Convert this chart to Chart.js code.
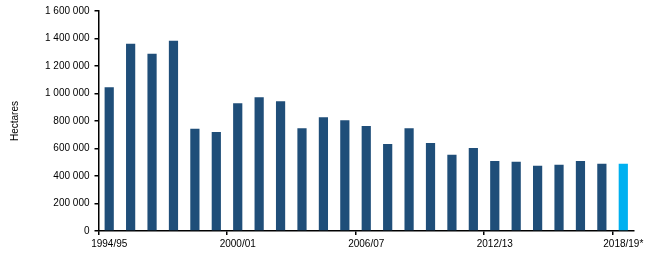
<!DOCTYPE html>
<html>
<head>
<meta charset="utf-8">
<script src="https://cdn.jsdelivr.net/npm/chart.js@4/dist/chart.umd.min.js"></script>
<style>
  html, body { margin: 0; padding: 0; background: #fff; }
  #wrap { width: 671px; height: 276px; }
</style>
</head>
<body>
<div id="wrap"><canvas id="chart" width="671" height="276"></canvas></div>
<script>
const seasons = [
  "1994/95", "1995/96", "1996/97", "1997/98", "1998/99", "1999/00",
  "2000/01", "2001/02", "2002/03", "2003/04", "2004/05", "2005/06",
  "2006/07", "2007/08", "2008/09", "2009/10", "2010/11", "2011/12",
  "2012/13", "2013/14", "2014/15", "2015/16", "2016/17", "2017/18",
  "2018/19*"
];
const hectares = [
  1045000, 1362000, 1290000, 1384000, 743000, 720000,
  929000, 972000, 943000, 748000, 828000, 806000,
  763000, 633000, 748000, 640000, 554000, 604000,
  510000, 503000, 474000, 481000, 510000, 489000,
  489000
];
const shownLabelEvery = 6;
const yTicks = [0, 200000, 400000, 600000, 800000, 1000000, 1200000, 1400000, 1600000];

const darkBlue = "#1F4E79";
const lightBlue = "#00B0F0";
const font = { family: "'Liberation Sans', Arial, sans-serif", size: 10 };

function formatThousands(v) {
  return String(v).replace(/\B(?=(\d{3})+(?!\d))/g, " ");
}

new Chart(document.getElementById("chart"), {
  type: "bar",
  data: {
    labels: seasons,
    datasets: [
      {
        label: "Hectares",
        data: hectares,
        backgroundColor: seasons.map((s, i) => (i === seasons.length - 1 ? lightBlue : darkBlue)),
        categoryPercentage: 1,
        barPercentage: 0.43
      }
    ]
  },
  options: {
    responsive: false,
    animation: false,
    layout: {
      padding: { left: 0, right: 37, top: 9, bottom: 0 }
    },
    plugins: {
      legend: { display: false },
      tooltip: { enabled: false }
    },
    scales: {
      x: {
        afterFit: (scale) => { scale.height = 45; },
        border: { color: "#000", width: 1.5 },
        grid: {
          offset: true,
          drawOnChartArea: false,
          tickLength: 4,
          color: (ctx) => (ctx.index % shownLabelEvery === 0 ? "#000" : "rgba(0,0,0,0)"),
          lineWidth: 1.5
        },
        ticks: {
          autoSkip: false,
          maxRotation: 0,
          color: "#000",
          font: font,
          padding: 3,
          callback: function (value, index) {
            return index % shownLabelEvery === 0 ? this.getLabelForValue(value) : "";
          }
        }
      },
      y: {
        min: 0,
        max: 1600000,
        afterFit: (scale) => { scale.width = 98.5; },
        afterBuildTicks: (scale) => { scale.ticks = yTicks.map((v) => ({ value: v })); },
        border: { color: "#000", width: 1.5 },
        grid: {
          drawOnChartArea: false,
          tickLength: 4,
          color: "#000",
          lineWidth: 1.5
        },
        ticks: {
          color: "#000",
          font: font,
          padding: 5,
          callback: (v) => formatThousands(v)
        },
        title: {
          display: true,
          text: "Hectares",
          color: "#000",
          font: font,
          padding: { top: 9, bottom: 0 }
        }
      }
    }
  }
});
</script>
</body>
</html>
